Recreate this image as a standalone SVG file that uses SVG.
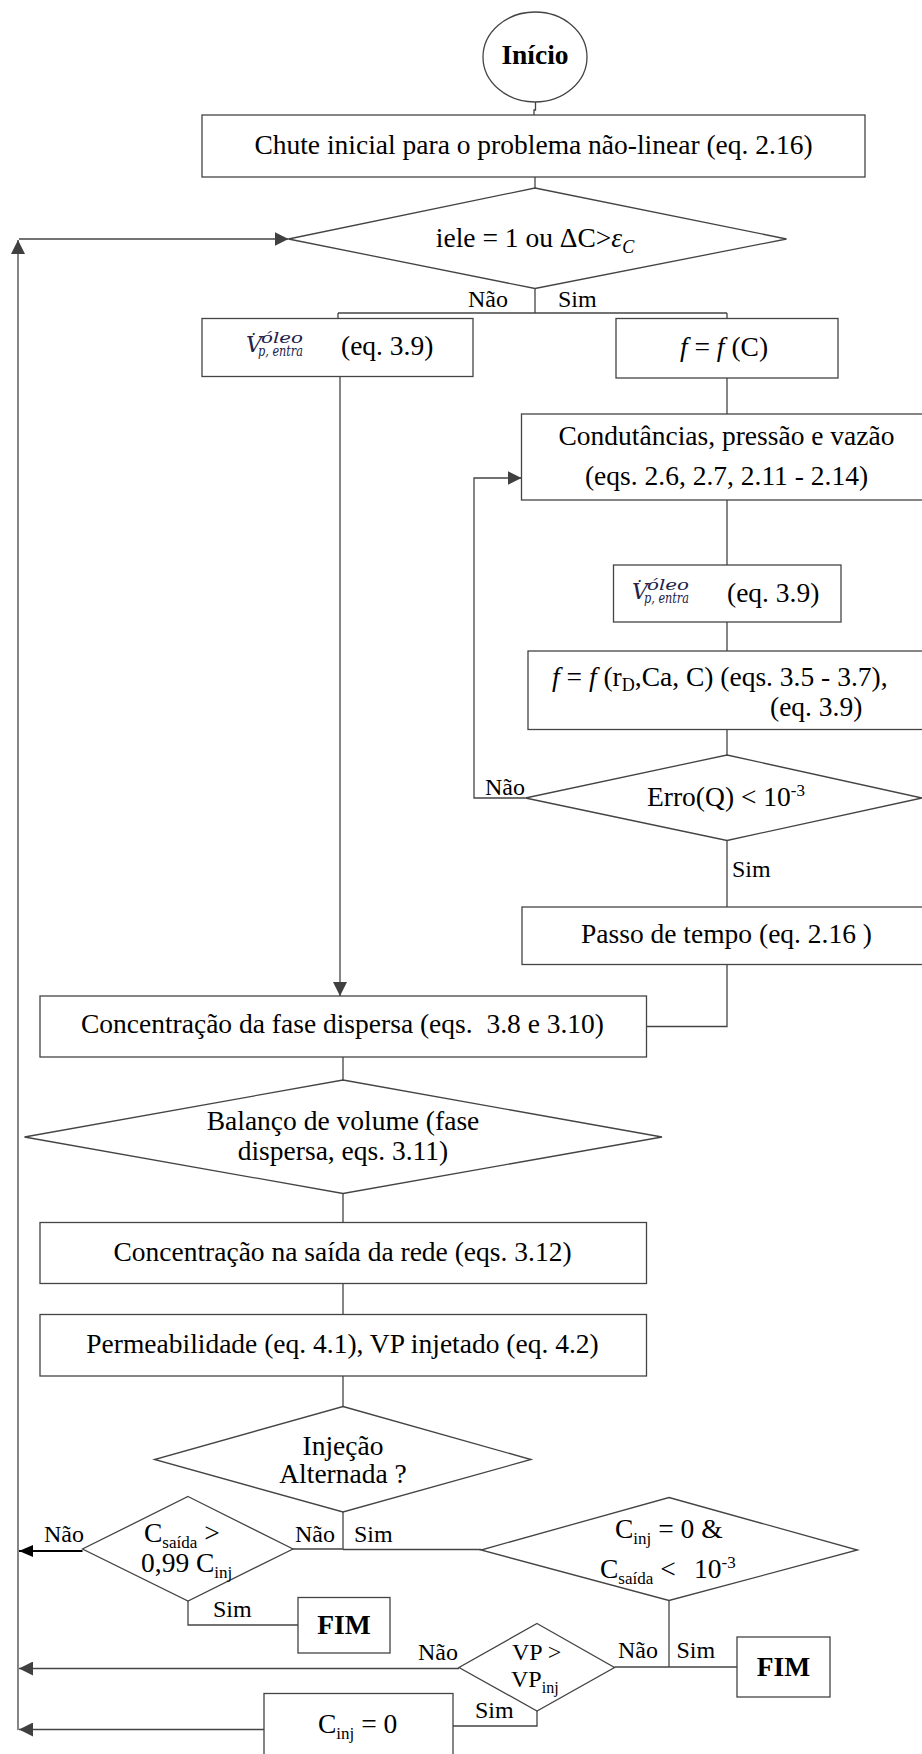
<svg xmlns="http://www.w3.org/2000/svg" width="922" height="1754" viewBox="0 0 922 1754">
<style>
.n{fill:#fff;stroke:#444;stroke-width:1.3}
.c{fill:none;stroke:#444;stroke-width:1.3}
.t{font-family:"Liberation Serif","Times New Roman",serif;font-size:27.5px;fill:#000}
.l{font-family:"Liberation Serif","Times New Roman",serif;font-size:24px;fill:#000}
.b{font-weight:bold}
.i{font-style:italic}
.v{font-family:"DejaVu Serif",serif;font-style:italic;fill:#22224a}
</style>
<defs>
<marker id="ah" markerUnits="userSpaceOnUse" markerWidth="14" markerHeight="14" refX="14" refY="7" orient="auto" viewBox="0 0 14 14"><path d="M0 0L14 7L0 14z" fill="#404040"/></marker>
<marker id="ahb" markerUnits="userSpaceOnUse" markerWidth="14" markerHeight="12" refX="14" refY="6" orient="auto" viewBox="0 0 14 12"><path d="M0 0L14 6L0 12z" fill="#000"/></marker>
</defs>
<rect width="922" height="1754" fill="#fff"/>
<g id="connectors" class="c">
<path d="M535.5 102V110H534V115"/>
<path d="M535 177V188"/>
<path d="M535 288.5V313M338 313H727M338 313V318.5M727 313V318.5"/>
<path d="M340 377V996" marker-end="url(#ah)"/>
<path d="M727 378V414"/>
<path d="M727 500V565"/>
<path d="M727 622V651"/>
<path d="M727 729.5V755"/>
<path d="M525.5 798H474V478H521.5" marker-end="url(#ah)"/>
<path d="M727 840.5V907"/>
<path d="M727 964.5V1026.5H646.5"/>
<path d="M343 1057V1080"/>
<path d="M343 1193.5V1222.5"/>
<path d="M343 1283.5V1314.5"/>
<path d="M343 1376V1406.5"/>
<path d="M343 1512V1549.5M343 1549H293M343 1549.5H481"/>
<path d="M82.5 1551H19" style="stroke:#000;stroke-width:2" marker-end="url(#ahb)"/>
<path d="M188 1601V1625H298"/>
<path d="M669 1600.5V1667M614.5 1667H737"/>
<path d="M459 1668.5H19" marker-end="url(#ah)"/>
<path d="M537 1711V1726H453"/>
<path d="M264 1729.5H19" marker-end="url(#ah)"/>
<path d="M18 1730V240" marker-end="url(#ah)"/>
<path d="M19 239H288.5" marker-end="url(#ah)"/>
</g>
<g id="inicio">
<ellipse class="n" cx="535" cy="57" rx="52" ry="45"/>
<text class="t b" x="535" y="64" text-anchor="middle" font-size="27">Início</text>
</g>
<g id="chute">
<rect class="n" x="202" y="115" width="663" height="62"/>
<text class="t" x="533.5" y="154" text-anchor="middle">Chute inicial para o problema não-linear (eq. 2.16)</text>
</g>
<g id="dec-iele">
<polygon class="n" points="535,188 786.5,239 535,288.5 288.5,239"/>
<text class="t" x="535" y="247" text-anchor="middle">iele = 1 ou ΔC&gt;<tspan class="i">ε</tspan><tspan class="i" font-size="18" dy="6">C</tspan></text>
</g>
<g id="lbl-top">
<text class="l" x="468" y="307">Não</text>
<text class="l" x="558" y="307">Sim</text>
</g>
<g id="vdot1">
<rect class="n" x="202" y="318.5" width="271" height="58"/>
<text class="v" x="246" y="352" font-size="22">V</text>
<text class="v" x="252" y="347" font-size="18" text-anchor="middle">˙</text>
<text class="v" x="261" y="343" font-size="15" textLength="42" lengthAdjust="spacingAndGlyphs">óleo</text>
<text class="v" x="258" y="356" font-size="14" textLength="45" lengthAdjust="spacingAndGlyphs">p, entra</text>
<text class="t" x="341" y="355">(eq. 3.9)</text>
</g>
<g id="fC">
<rect class="n" x="616" y="318.5" width="222" height="59.5"/>
<text class="t" x="724" y="356" text-anchor="middle"><tspan class="i">f</tspan> = <tspan class="i">f</tspan> (C)</text>
</g>
<g id="condutancias">
<rect class="n" x="521.5" y="414" width="404" height="86"/>
<text class="t" x="726.5" y="445" text-anchor="middle">Condutâncias, pressão e vazão</text>
<text class="t" x="726.5" y="485" text-anchor="middle">(eqs. 2.6, 2.7, 2.11 - 2.14)</text>
</g>
<g id="vdot2">
<rect class="n" x="613.5" y="565" width="227.5" height="57"/>
<text class="v" x="632" y="599" font-size="22">V</text>
<text class="v" x="638" y="594" font-size="18" text-anchor="middle">˙</text>
<text class="v" x="647" y="590" font-size="15" textLength="42" lengthAdjust="spacingAndGlyphs">óleo</text>
<text class="v" x="644" y="603" font-size="14" textLength="45" lengthAdjust="spacingAndGlyphs">p, entra</text>
<text class="t" x="727" y="602">(eq. 3.9)</text>
</g>
<g id="f-rd">
<rect class="n" x="528" y="651" width="397" height="78.5"/>
<text class="t" x="552" y="686"><tspan class="i">f</tspan> = <tspan class="i">f</tspan> (r<tspan font-size="18" dy="5">D</tspan><tspan dy="-5">,Ca, C) (eqs. 3.5 - 3.7),</tspan></text>
<text class="t" x="770" y="716">(eq. 3.9)</text>
</g>
<g id="dec-erro">
<polygon class="n" points="727,755 922,798 727,840.5 525.5,798"/>
<text class="t" x="726" y="806" text-anchor="middle">Erro(Q) &lt; 10<tspan font-size="17" dy="-10">-3</tspan></text>
</g>
<g id="lbl-erro">
<text class="l" x="485" y="795">Não</text>
<text class="l" x="732" y="877">Sim</text>
</g>
<g id="passo">
<rect class="n" x="522" y="907" width="403" height="57.5"/>
<text class="t" x="726.5" y="943" text-anchor="middle">Passo de tempo (eq. 2.16 )</text>
</g>
<g id="conc-fase">
<rect class="n" x="40" y="996" width="606.5" height="61"/>
<text class="t" x="342.5" y="1033" text-anchor="middle" xml:space="preserve">Concentração da fase dispersa (eqs.  3.8 e 3.10)</text>
</g>
<g id="balanco">
<polygon class="n" points="343,1080 662,1137 343,1193.5 24.5,1137"/>
<text class="t" x="343" y="1130" text-anchor="middle">Balanço de volume (fase</text>
<text class="t" x="343" y="1160" text-anchor="middle">dispersa, eqs. 3.11)</text>
</g>
<g id="conc-saida">
<rect class="n" x="40" y="1222.5" width="606.5" height="61"/>
<text class="t" x="342.5" y="1261" text-anchor="middle">Concentração na saída da rede (eqs. 3.12)</text>
</g>
<g id="perm">
<rect class="n" x="40" y="1314.5" width="606.5" height="61.5"/>
<text class="t" x="342.5" y="1353" text-anchor="middle">Permeabilidade (eq. 4.1), VP injetado (eq. 4.2)</text>
</g>
<g id="injecao">
<polygon class="n" points="343,1406.5 531,1459.5 343,1512 154.5,1459.5"/>
<text class="t" x="343" y="1455" text-anchor="middle">Injeção</text>
<text class="t" x="343" y="1483" text-anchor="middle">Alternada ?</text>
</g>
<g id="lbl-inj">
<text class="l" x="295" y="1542">Não</text>
<text class="l" x="354" y="1542">Sim</text>
</g>
<g id="dec-csaida">
<polygon class="n" points="188,1496.5 293,1549 188,1601 82.5,1549"/>
<text class="t" x="144" y="1542">C<tspan font-size="17" dy="6">saída</tspan><tspan dy="-6"> &gt;</tspan></text>
<text class="t" x="141" y="1572">0,99 C<tspan font-size="17" dy="6">inj</tspan></text>
</g>
<text class="l" x="44" y="1542">Não</text>
<text class="l" x="213" y="1617">Sim</text>
<g id="fim1">
<rect class="n" x="298" y="1597.5" width="92" height="55.5"/>
<text class="t b" x="344" y="1634" text-anchor="middle" font-size="29">FIM</text>
</g>
<g id="dec-cinj">
<polygon class="n" points="669,1497.5 857.5,1550 669,1600.5 481,1550"/>
<text class="t" x="615" y="1538">C<tspan font-size="17" dy="6">inj</tspan><tspan dy="-6"> = 0 &amp;</tspan></text>
<text class="t" x="600" y="1578">C<tspan font-size="17" dy="6">saída</tspan><tspan dy="-6"> &lt;</tspan><tspan x="694">10</tspan><tspan font-size="17" dy="-10">-3</tspan></text>
</g>
<g id="lbl-cinj">
<text class="l" x="618" y="1658">Não</text>
<text class="l" x="676.5" y="1658">Sim</text>
</g>
<g id="fim2">
<rect class="n" x="737" y="1637" width="93" height="60"/>
<text class="t b" x="783.5" y="1676" text-anchor="middle" font-size="29">FIM</text>
</g>
<g id="dec-vp">
<polygon class="n" points="537,1623.5 614.5,1667.5 537,1711 459,1667.5"/>
<text class="l" x="512" y="1660">VP &gt;</text>
<text class="l" x="511" y="1687">VP<tspan font-size="16" dy="6">inj</tspan></text>
</g>
<text class="l" x="418" y="1660">Não</text>
<text class="l" x="475" y="1718">Sim</text>
<g id="cinj0">
<rect class="n" x="264" y="1693.5" width="189" height="70"/>
<text class="t" x="318" y="1733">C<tspan font-size="17" dy="6">inj</tspan><tspan dy="-6"> = 0</tspan></text>
</g>
</svg>
